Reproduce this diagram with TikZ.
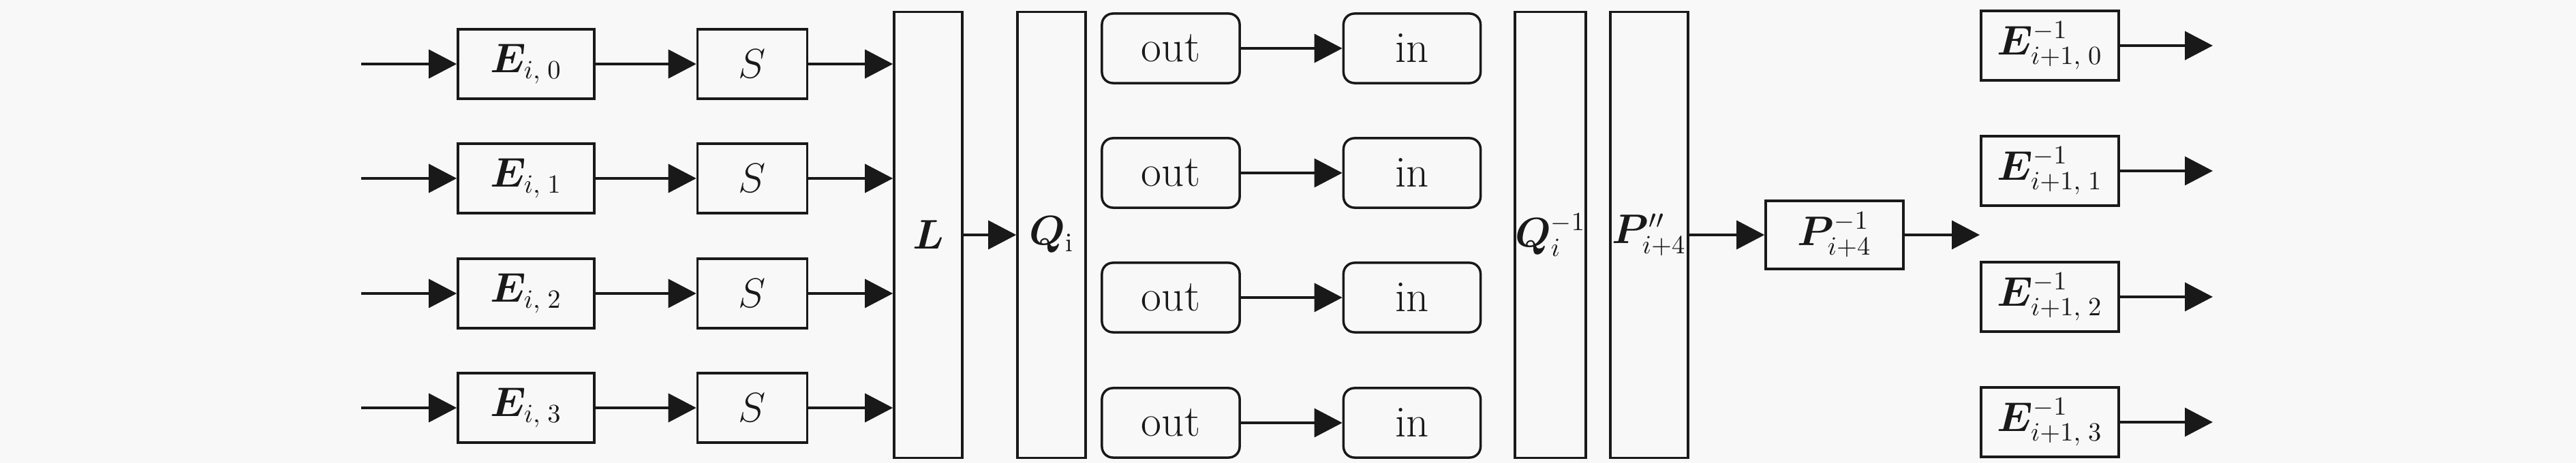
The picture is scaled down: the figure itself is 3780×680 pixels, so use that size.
\documentclass[tikz,border=0pt]{standalone}
\usepackage{amsmath,bm}
\usetikzlibrary{arrows.meta}
\DeclareMathSizes{18.5}{18.5}{11}{8}
\definecolor{bg}{RGB}{248,248,248}
\definecolor{ink}{RGB}{25,25,25}
\tikzset{
  blk/.style={draw=ink, line width=0.035cm, minimum height=1.02cm, inner sep=0pt,
    font=\fontsize{18.5}{22}\selectfont, text=ink},
  rblk/.style={blk, rounded corners=0.16cm},
  tall/.style={blk, minimum width=1.0cm, minimum height=6.55cm},
  arr/.style={draw=ink, line width=0.035cm, -{Triangle[length=0.41cm,width=0.42cm]}}
}
\begin{document}
\begin{tikzpicture}[x=0.01cm,y=-0.01cm]
\fill[bg] (0,0) rectangle (3780,680);
\useasboundingbox (0,0) rectangle (3780,680);
% left rows
\foreach \k/\y in {0/94,1/262,2/431,3/599}{
  \coordinate (in\k) at (530,\y);
  \node[blk, minimum width=2.0cm] (E\k) at (772,\y) {$\bm{E}_{i,\;\k}$};
  \node[blk, minimum width=1.61cm] (S\k) at (1104,\y) {$S$};
}
\node[tall] (L) at (1362,345) {$\bm{L}$};
\node[tall] (Q) at (1543,345) {$\bm{Q}_{\mathrm{i}}$};
\foreach \k in {0,...,3}{
  \draw[arr] (in\k) -- (E\k.west);
  \draw[arr] (E\k.east) -- (S\k.west);
  \draw[arr] (S\k.east) -- (S\k.east -| L.west);
}
\draw[arr] (L.east) -- (Q.west);
% middle rows
\foreach \k/\y in {0/71,1/254,2/437,3/621}{
  \node[rblk, minimum width=2.02cm] (O\k) at (1718,\y) {out};
  \node[rblk, minimum width=2.01cm] (I\k) at (2072,\y) {in};
  \draw[arr] (O\k.east) -- (I\k.west);
}
\node[tall] (Qinv) at (2275,345) {$\bm{Q}_{i}^{-1}$};
\node[tall, minimum width=1.14cm] (Pdd) at (2420,345) {$\bm{P}''_{i+4}$};
\node[blk, minimum width=2.02cm, minimum height=1.0cm] (Pinv) at (2692,345) {$\bm{P}_{i+4}^{-1}$};
\coordinate (pout) at (2905,345);
\draw[arr] (Pdd.east) -- (Pinv.west);
\draw[arr] (Pinv.east) -- (pout);
\foreach \k/\y in {0/67,1/251,2/436,3/620}{
  \node[blk, minimum width=2.02cm] (F\k) at (3008,\y) {$\bm{E}_{i+1,\;\k}^{-1}$};
  \coordinate (fo\k) at (3247,\y);
  \draw[arr] (F\k.east) -- (fo\k);
}
\end{tikzpicture}
\end{document}
